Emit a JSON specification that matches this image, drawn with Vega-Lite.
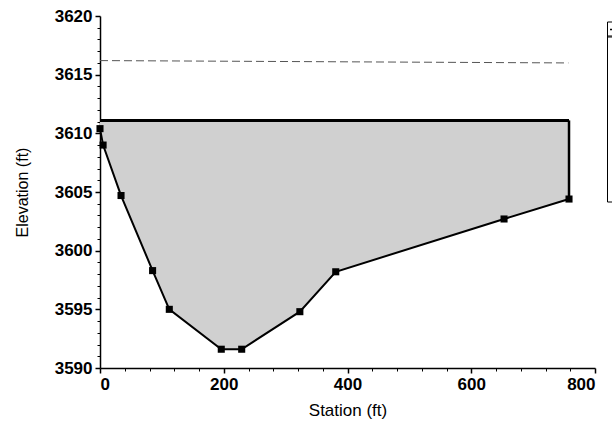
{
  "$schema": "https://vega.github.io/schema/vega-lite/v6.json",
  "width": 495,
  "height": 352,
  "autosize": {"type": "none"},
  "padding": {"left": 100, "top": 16, "right": 17, "bottom": 68},
  "background": "white",
  "config": {
    "view": {"stroke": null},
    "font": "Liberation Sans",
    "axis": {"grid": false, "domainColor": "black", "tickColor": "black", "labelColor": "black", "titleColor": "black", "labelFont": "Liberation Sans", "titleFont": "Liberation Sans", "labelFontWeight": "bold", "labelFontSize": 17}
  },
  "datasets": {
    "ground": [
      {"station": 0, "elev": 3610.4, "ws": 3611.1},
      {"station": 5, "elev": 3609.0, "ws": 3611.1},
      {"station": 34, "elev": 3604.7, "ws": 3611.1},
      {"station": 85, "elev": 3598.3, "ws": 3611.1},
      {"station": 112, "elev": 3595.0, "ws": 3611.1},
      {"station": 196, "elev": 3591.6, "ws": 3611.1},
      {"station": 229, "elev": 3591.6, "ws": 3611.1},
      {"station": 323, "elev": 3594.8, "ws": 3611.1},
      {"station": 381, "elev": 3598.2, "ws": 3611.1},
      {"station": 653, "elev": 3602.7, "ws": 3611.1},
      {"station": 758, "elev": 3604.4, "ws": 3611.1}
    ],
    "ws": [
      {"station": 0, "elev": 3611.1, "kind": "WS PF 1"},
      {"station": 758, "elev": 3611.1, "kind": "WS PF 1"}
    ],
    "edge": [
      {"station": 758, "top": 3611.1, "bottom": 3604.4}
    ],
    "eg": [
      {"station": 0, "elev": 3616.2, "series": "EG PF 1"},
      {"station": 757, "elev": 3616.0, "series": "EG PF 1"}
    ]
  },
  "layer": [
    {
      "data": {"name": "ground"},
      "mark": {"type": "area", "fill": "#d0d0d0", "opacity": 1},
      "encoding": {
        "x": {"field": "station", "type": "quantitative", "scale": {"domain": [0, 800], "nice": false, "zero": false},
          "axis": {"values": [0, 200, 400, 600, 800], "format": "d", "title": "Station (ft)", "labelFontSize": 17, "labelFontWeight": "bold", "titleFontSize": 17, "titleFontWeight": "normal", "tickSize": 5, "tickWidth": 1.5, "domainWidth": 1.5, "labelPadding": 3, "titlePadding": 10}},
        "y": {"field": "ws", "type": "quantitative", "scale": {"domain": [3590, 3620], "nice": false, "zero": false},
          "axis": {"values": [3590, 3595, 3600, 3605, 3610, 3615, 3620], "format": "d", "title": "Elevation (ft)", "labelFontSize": 17, "labelFontWeight": "bold", "titleFontSize": 16, "titleFontWeight": "normal", "tickSize": 5, "tickWidth": 1.5, "domainWidth": 1.5, "labelPadding": 3, "titlePadding": 24}},
        "y2": {"field": "elev"}
      }
    },
    {
      "data": {"name": "ground"},
      "mark": {"type": "line", "color": "black", "strokeWidth": 2, "point": {"shape": "square", "filled": true, "size": 50, "color": "black"}},
      "encoding": {
        "x": {"field": "station", "type": "quantitative",
          "axis": {"orient": "bottom", "values": [40, 80, 120, 160, 240, 280, 320, 360, 440, 480, 520, 560, 640, 680, 720, 760], "labels": false, "domain": false, "title": null, "tickSize": 3, "tickWidth": 1}},
        "y": {"field": "elev", "type": "quantitative",
          "axis": {"orient": "left", "values": [3591, 3592, 3593, 3594, 3596, 3597, 3598, 3599, 3601, 3602, 3603, 3604, 3606, 3607, 3608, 3609, 3611, 3612, 3613, 3614, 3616, 3617, 3618, 3619], "labels": false, "domain": false, "title": null, "tickSize": 3, "tickWidth": 1}}
      }
    },
    {
      "data": {"name": "ws"},
      "mark": {"type": "line", "color": "black", "strokeWidth": 3},
      "encoding": {
        "x": {"field": "station", "type": "quantitative", "axis": null},
        "y": {"field": "elev", "type": "quantitative", "axis": null},
        "strokeDash": {"field": "kind", "type": "nominal", "scale": {"domain": ["WS PF 1"], "range": [[1, 0]]},
          "legend": {"orient": "none", "legendX": 507, "legendY": 5.5, "title": null, "labelExpr": "''", "labelFontSize": 10, "symbolSize": 100, "padding": 2, "strokeColor": "black", "symbolType": "stroke"}}
      }
    },
    {
      "data": {"name": "edge"},
      "mark": {"type": "rule", "color": "black", "strokeWidth": 2.5},
      "encoding": {
        "x": {"field": "station", "type": "quantitative", "axis": null},
        "y": {"field": "top", "type": "quantitative", "axis": null},
        "y2": {"field": "bottom"}
      }
    },
    {
      "data": {"name": "eg"},
      "mark": {"type": "line", "strokeWidth": 1, "strokeDash": [8, 4]},
      "encoding": {
        "x": {"field": "station", "type": "quantitative", "axis": null},
        "y": {"field": "elev", "type": "quantitative", "axis": null},
        "stroke": {"field": "series", "type": "nominal",
          "scale": {"domain": ["EG PF 1", "Ground", "Bank Sta", "Ineff"], "range": ["#555555", "black", "black", "black"]},
          "legend": {"orient": "none", "legendX": 507, "legendY": 19.5, "title": null, "labelExpr": "''", "labelFontSize": 10, "symbolSize": 100, "rowPadding": 34, "padding": 10, "strokeColor": "black", "symbolType": "stroke"}}
      }
    }
  ],
  "resolve": {"axis": {"x": "independent", "y": "independent"}}
}
